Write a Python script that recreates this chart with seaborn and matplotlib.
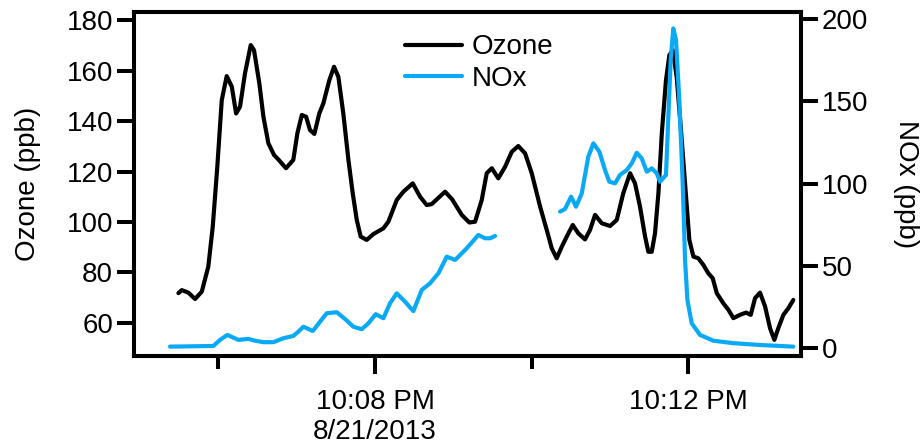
import numpy as np
import pandas as pd
import matplotlib
matplotlib.use("Agg")
import matplotlib.pyplot as plt
import seaborn as sns

# ---- data: time in seconds after 10:00:00 PM (8/21/2013) ----
ozone_t = [329.4, 332.0, 337.0, 342.2, 347.3, 352.3, 355.7, 359.2, 362.6, 366.4,
           370.3, 373.6, 376.6, 380.4, 384.8, 387.3, 391.4, 394.5, 398.3, 402.7,
           405.9, 411.8, 417.4, 420.5, 423.9, 427.2, 430.2, 433.5, 437.3, 440.4,
           445.0, 448.6, 451.9, 455.7, 459.6, 462.9, 466.0, 469.0, 473.6, 478.7,
           486.4, 490.2, 496.6, 501.7, 508.9, 514.5, 519.6, 523.4, 533.6, 539.0,
           546.4, 552.2, 556.6, 561.7, 565.5, 569.4, 574.4, 579.6, 584.7, 589.7,
           594.9, 600.0, 606.4, 611.5, 615.3, 619.1, 623.0, 626.8, 631.4, 635.7,
           640.8, 644.6, 648.5, 653.6, 660.0, 665.1, 670.1, 675.3, 679.1, 682.9,
           686.8, 689.3, 691.9, 694.4, 697.0, 699.6, 702.8, 705.4, 708.0, 711.0,
           714.1, 717.4, 720.7, 723.8, 727.6, 731.4, 735.2, 738.6, 741.7, 746.7,
           750.6, 754.4, 759.5, 764.1, 767.7, 771.0, 774.8, 778.7, 782.5, 785.8,
           788.8, 792.7, 796.5, 800.3]
ozone_ppb = [71.8, 73.0, 72.0, 69.5, 72.4, 82.3, 98.1, 121.9, 148.3, 157.8,
             153.6, 143.0, 145.7, 158.9, 170.1, 168.1, 154.9, 141.7, 131.2, 126.5,
             124.8, 121.3, 124.6, 135.1, 142.4, 141.7, 136.4, 134.9, 143.0, 147.0,
             156.2, 161.5, 157.5, 143.0, 124.6, 111.4, 100.8, 94.2, 92.9, 95.2,
             97.5, 100.1, 108.7, 112.0, 115.3, 110.0, 106.7, 107.1, 112.0, 109.0,
             102.8, 99.8, 100.1, 108.7, 119.3, 121.3, 117.3, 121.9, 127.8, 130.1,
             127.2, 119.3, 106.1, 96.8, 89.6, 85.6, 90.2, 94.2, 98.8, 95.5,
             93.1, 96.8, 102.8, 99.5, 98.4, 100.8, 111.4, 119.3, 115.3, 106.1,
             94.2, 88.2, 88.2, 95.5, 111.4, 135.1, 156.2, 166.1, 168.1, 157.5,
             137.7, 115.3, 92.9, 86.3, 85.6, 83.0, 79.7, 77.7, 71.8, 67.8,
             65.2, 61.9, 63.2, 64.1, 63.2, 69.8, 72.0, 66.5, 57.9, 53.3,
             57.9, 63.2, 65.8, 69.1]

nox1_t = [323.0, 356.2, 361.3, 366.9, 375.3, 383.0, 388.1, 394.5, 402.1, 409.8,
          417.4, 421.3, 425.1, 432.3, 437.9, 443.0, 450.7, 457.0, 463.4, 469.8,
          474.9, 480.5, 486.4, 491.5, 496.6, 503.0, 509.3, 515.8, 522.1, 528.5,
          534.9, 541.3, 550.2, 559.1, 564.2, 568.1, 571.9]
nox1_ppb = [0.8, 1.2, 4.9, 7.9, 4.9, 5.5, 4.4, 3.5, 3.5, 5.9,
            7.3, 9.9, 12.9, 10.3, 16.0, 21.1, 21.7, 17.6, 12.9, 11.4,
            15.0, 20.5, 18.1, 27.2, 33.2, 28.1, 22.4, 35.3, 39.3, 45.4,
            55.5, 53.5, 60.6, 68.7, 66.7, 66.7, 68.1]

nox2_t = [621.7, 625.5, 630.1, 633.9, 638.3, 643.3, 647.2, 651.8, 656.1, 659.4,
          663.8, 667.6, 672.8, 676.6, 680.4, 684.2, 688.1, 691.9, 695.7, 698.3,
          702.8, 704.6, 706.4, 708.4, 710.5, 713.0, 715.6, 717.4, 719.2, 722.5,
          728.9, 739.1, 754.4, 774.8, 800.3]
nox2_ppb = [82.9, 84.5, 92.0, 85.9, 94.0, 116.3, 124.4, 119.3, 108.2, 101.1,
            100.1, 105.2, 108.2, 112.3, 118.7, 115.3, 107.2, 109.2, 106.2, 101.1,
            105.2, 140.6, 175.1, 194.3, 187.2, 150.8, 100.1, 53.5, 29.2, 15.0,
            7.9, 4.4, 2.9, 1.8, 0.8]

major_ticks = [480, 720]
major_labels = ["10:08 PM\n8/21/2013", "10:12 PM"]
minor_ticks = [360, 600]
ozone_yticks = [60, 80, 100, 120, 140, 160, 180]
nox_yticks = [0, 50, 100, 150, 200]

# ---- style ----
sns.set_style("ticks")
plt.rcParams["font.family"] = ["Liberation Sans", "DejaVu Sans"]
plt.rcParams["font.size"] = 20
plt.rcParams["text.color"] = "black"
plt.rcParams["axes.labelcolor"] = "black"
plt.rcParams["xtick.color"] = "black"
plt.rcParams["ytick.color"] = "black"

BLACK = "#000000"
BLUE = "#0AA9F5"
LW = 3.0
SPW = 2.9

fig = plt.figure(figsize=(9.21, 4.46), dpi=100)
ax = fig.add_axes([134 / 921, 1 - 356 / 446, 667 / 921, 344 / 446])
ax2 = ax.twinx()

df_o = pd.DataFrame({"t": ozone_t, "ppb": ozone_ppb})
df_n1 = pd.DataFrame({"t": nox1_t, "ppb": nox1_ppb})
df_n2 = pd.DataFrame({"t": nox2_t, "ppb": nox2_ppb})

kw = dict(estimator=None, errorbar=None, linewidth=LW,
          solid_joinstyle="round", solid_capstyle="round")
sns.lineplot(data=df_o, x="t", y="ppb", ax=ax, color=BLACK, label="Ozone", **kw)
sns.lineplot(data=df_n1, x="t", y="ppb", ax=ax2, color=BLUE, label="NOx", **kw)
sns.lineplot(data=df_n2, x="t", y="ppb", ax=ax2, color=BLUE, **kw)

for a in (ax, ax2):
    lg = a.get_legend()
    if lg is not None:
        lg.remove()

ax.set_xlim(295.4, 806.2)
ax.set_ylim(46.9, 183.2)
ax2.set_ylim(-4.9, 204.3)

ax.set_xticks(major_ticks)
ax.set_xticklabels(major_labels, fontsize=20, color=BLACK)
ax.set_xticks(minor_ticks, minor=True)
ax.set_yticks(ozone_yticks)
ax.set_yticklabels([str(v) for v in ozone_yticks], fontsize=20, color=BLACK)
ax2.set_yticks(nox_yticks)
ax2.set_yticklabels([str(v) for v in nox_yticks], fontsize=20, color=BLACK)

ax.tick_params(axis="x", which="major", length=13, width=SPW, direction="out",
               pad=11, colors=BLACK)
ax.tick_params(axis="x", which="minor", length=9, width=SPW, direction="out",
               colors=BLACK)
ax.tick_params(axis="y", length=12, width=SPW, direction="out", pad=3, colors=BLACK)
ax2.tick_params(axis="y", length=12, width=SPW, direction="out", pad=3, colors=BLACK)

for a in (ax, ax2):
    for s in a.spines.values():
        s.set_visible(True)
        s.set_linewidth(SPW)
        s.set_color(BLACK)

ax.set_xlabel("")
ax.set_ylabel("Ozone (ppb)", fontsize=20, color=BLACK, va="center")
ax.yaxis.set_label_coords(-0.159, 0.5)
ax2.set_ylabel("NOx (ppb)", fontsize=20, rotation=270, va="center", color=BLACK)
ax2.yaxis.set_label_coords(1.157, 0.5)

h1, l1 = ax.get_legend_handles_labels()
h2, l2 = ax2.get_legend_handles_labels()
leg = ax2.legend(h1 + h2, l1 + l2, loc="upper left", bbox_to_anchor=(0.406, 0.935),
                 frameon=False, borderpad=0, borderaxespad=0, handlelength=2.05,
                 handletextpad=0.36, labelspacing=0.2, fontsize=20)
for t in leg.get_texts():
    t.set_color(BLACK)

fig.savefig("out.png", dpi=100)
